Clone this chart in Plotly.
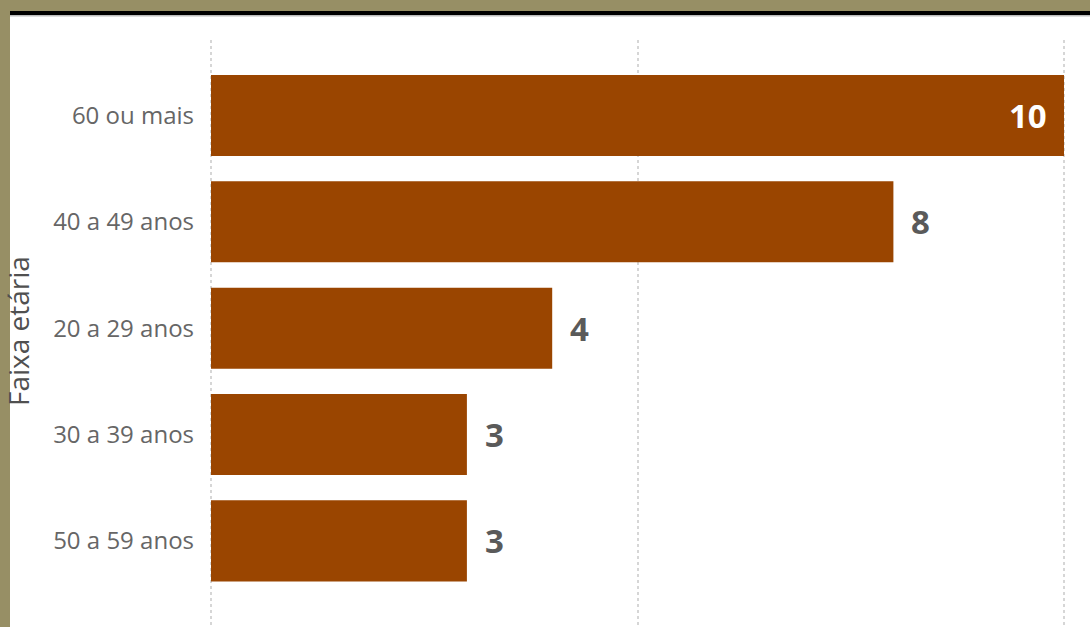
import plotly.graph_objects as go

categories = ["60 ou mais", "40 a 49 anos", "20 a 29 anos", "30 a 39 anos", "50 a 59 anos"]
values = [10, 8, 4, 3, 3]
axis_title = "Faixa etária"

W, H = 1090, 627
ML, MR, MT, MB = 209, 24, 40, 0
PW, PH = W - ML - MR, H - MT - MB
EXT = 0.0234

def px_x(p):
    return (p - ML) / PW

def px_y(p):
    return (H - MB - p) / PH

BAR = "#9A4500"
OLIVE = "#978F65"

fig = go.Figure(go.Bar(
    x=values, y=categories, orientation="h",
    marker=dict(color=BAR, line=dict(width=0)),
    hoverinfo="skip",
))

annotations = []
for c, v in zip(categories, values):
    inside = v == max(values)
    annotations.append(dict(
        x=v, y=c, xref="x", yref="y",
        text=f"<b>{v}</b>", showarrow=False,
        xanchor="right" if inside else "left",
        xshift=-15 if inside else 16,
        font=dict(family="Open Sans", size=33, color="white" if inside else "#5a5a5a"),
    ))

annotations.append(dict(
    x=px_x(-3), y=px_y(331), xref="paper", yref="paper",
    text=axis_title, textangle=-90, showarrow=False,
    xanchor="left", yanchor="middle",
    font=dict(family="Open Sans", size=28, color="#505050"),
))

shapes = [
    dict(type="rect", xref="paper", yref="paper", x0=px_x(0), x1=px_x(W), y0=px_y(0), y1=px_y(11),
         fillcolor=OLIVE, line=dict(width=0), layer="above"),
    dict(type="rect", xref="paper", yref="paper", x0=px_x(10), x1=px_x(W), y0=px_y(11), y1=px_y(15),
         fillcolor="#000000", line=dict(width=0), layer="above"),
    dict(type="rect", xref="paper", yref="paper", x0=px_x(10), x1=px_x(W), y0=px_y(15), y1=px_y(16.5),
         fillcolor="#bdbdbd", line=dict(width=0), layer="above"),
    dict(type="rect", xref="paper", yref="paper", x0=px_x(0), x1=px_x(10), y0=px_y(0), y1=px_y(H),
         fillcolor=OLIVE, line=dict(width=0), layer="above"),
]

fig.update_layout(
    width=W, height=H,
    margin=dict(l=ML, r=MR, t=MT, b=MB, pad=0),
    paper_bgcolor="white", plot_bgcolor="white",
    bargap=0.238,
    showlegend=False,
    annotations=annotations,
    shapes=shapes,
    xaxis=dict(range=[-EXT, 10 + EXT], dtick=5, showticklabels=False, showgrid=True,
               gridcolor="#d6d6d6", griddash="dot", gridwidth=1.5, zeroline=False,
               showline=False, fixedrange=True),
    yaxis=dict(categoryorder="array", categoryarray=categories,
               range=[4.81, -0.71], showgrid=False, zeroline=False, showline=False,
               ticks="", ticklabelstandoff=14,
               tickfont=dict(family="Open Sans", size=24, color="#666666"),
               fixedrange=True),
)

fig.write_html("out.html", config={"displayModeBar": False})
